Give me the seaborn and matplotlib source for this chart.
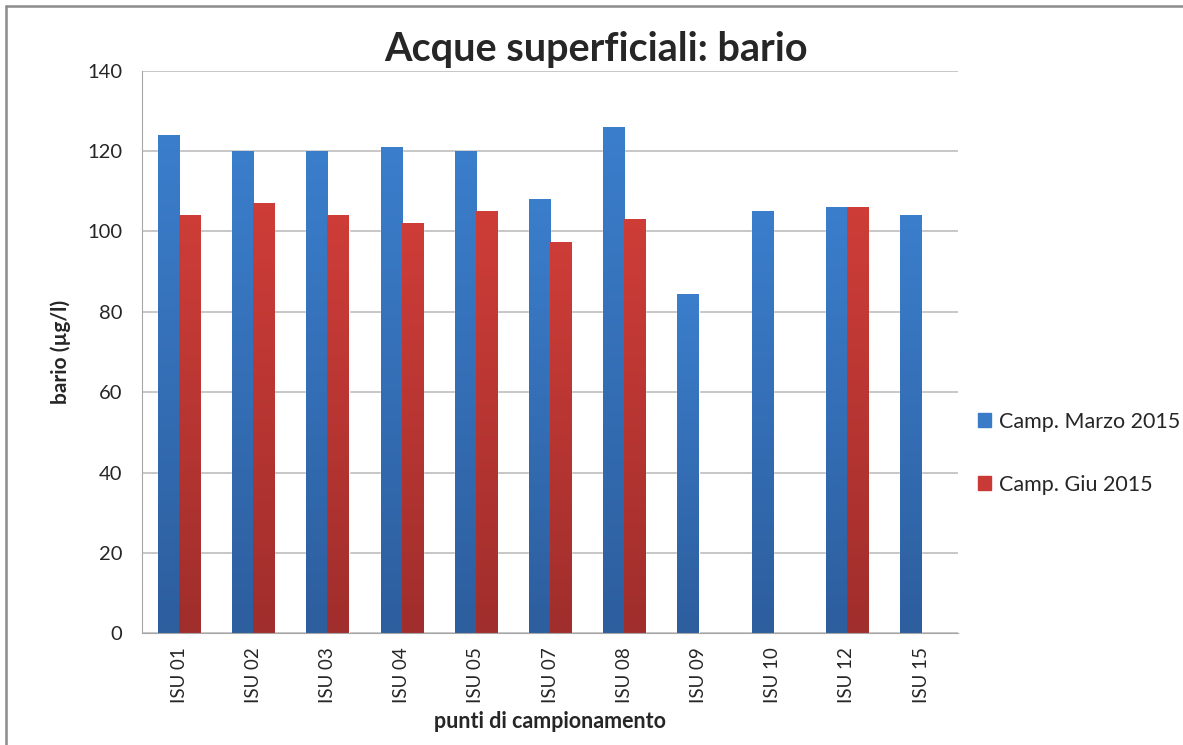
import seaborn as sns
import matplotlib.pyplot as plt
import matplotlib.patches as mpatches
import matplotlib.lines as mlines
import pandas as pd
import numpy as np

sns.set_style("white")
plt.rcParams['font.family'] = ['Lato', 'DejaVu Sans']

punti = ['ISU 01', 'ISU 02', 'ISU 03', 'ISU 04', 'ISU 05', 'ISU 07',
         'ISU 08', 'ISU 09', 'ISU 10', 'ISU 12', 'ISU 15']
marzo_2015 = [124, 120, 120, 121, 120, 108, 126, 84.5, 105, 106, 104]
giu_2015 = [104, 107, 104, 102, 105, 97.5, 103, np.nan, np.nan, 106, np.nan]
serie = ['Camp. Marzo 2015', 'Camp. Giu 2015']

df = pd.DataFrame({
    'punto': punti * 2,
    'valore': marzo_2015 + giu_2015,
    'serie': [serie[0]] * len(punti) + [serie[1]] * len(punti),
})

colori = {serie[0]: '#3A7BC8', serie[1]: '#C93A36'}
sfumature = {serie[0]: ('#3B7ECC', '#2D5E9E'), serie[1]: ('#CE3D38', '#A02E2C')}

fig = plt.figure(figsize=(11.83, 7.45), dpi=100)
ax = fig.add_axes([0.120, 0.150, 0.690, 0.755])

sns.barplot(data=df, x='punto', y='valore', hue='serie', palette=colori,
            width=0.57, saturation=1, ax=ax, legend=True)

# gradient fill on bars (lighter top, darker bottom)
for cont, nome in zip(ax.containers, serie):
    top, bot = sfumature[nome]
    cmap = plt.matplotlib.colors.LinearSegmentedColormap.from_list('g', [bot, top])
    grad = np.linspace(0, 1, 256).reshape(-1, 1)
    for bar in cont:
        h = bar.get_height()
        if not np.isfinite(h) or h == 0:
            continue
        x0 = bar.get_x()
        w = bar.get_width()
        im = ax.imshow(grad, extent=[x0, x0 + w, 0, h], origin='lower',
                       cmap=cmap, aspect='auto', zorder=bar.get_zorder())
        im.set_clip_path(bar)

ax.set_xlim(-0.5, len(punti) - 0.5)
ax.set_ylim(0, 140)
ax.set_yticks(range(0, 141, 20))
ax.yaxis.grid(True, color='#BDBDBD', linewidth=1.2)
ax.set_axisbelow(True)
for s in ['top', 'right']:
    ax.spines[s].set_visible(False)
ax.spines['left'].set_color('#A6A6A6')
ax.spines['bottom'].set_color('#A6A6A6')
ax.tick_params(axis='y', labelsize=14.5, length=6, color='#A6A6A6', direction='out', pad=8)
ax.tick_params(axis='x', labelsize=13.5, length=0, rotation=90, pad=10)

fig.text(0.504, 0.933, 'Acque superficiali: bario', fontsize=28.5,
         fontweight='bold', ha='center', va='center')
ax.set_xlabel('punti di campionamento', fontsize=15.5, fontweight='bold', labelpad=6)
ax.set_ylabel('bario (µg/l)', fontsize=15, fontweight='bold', labelpad=12)

handles = [mpatches.Patch(color=colori[s], label=s) for s in serie]
ax.legend(handles=handles, loc='center left', bbox_to_anchor=(1.0, 0.32),
          frameon=False, fontsize=15.5, labelspacing=2.0, handlelength=0.6,
          handleheight=0.6, handletextpad=0.4)

# screenshot frame: only top and left edges visible
fig.add_artist(mlines.Line2D([0.005, 1.0], [0.992, 0.992], transform=fig.transFigure,
                             color='#8C8C8C', linewidth=1.8))
fig.add_artist(mlines.Line2D([0.005, 0.005], [0.0, 0.992], transform=fig.transFigure,
                             color='#8C8C8C', linewidth=1.8))

plt.savefig('out.png', dpi=100)
